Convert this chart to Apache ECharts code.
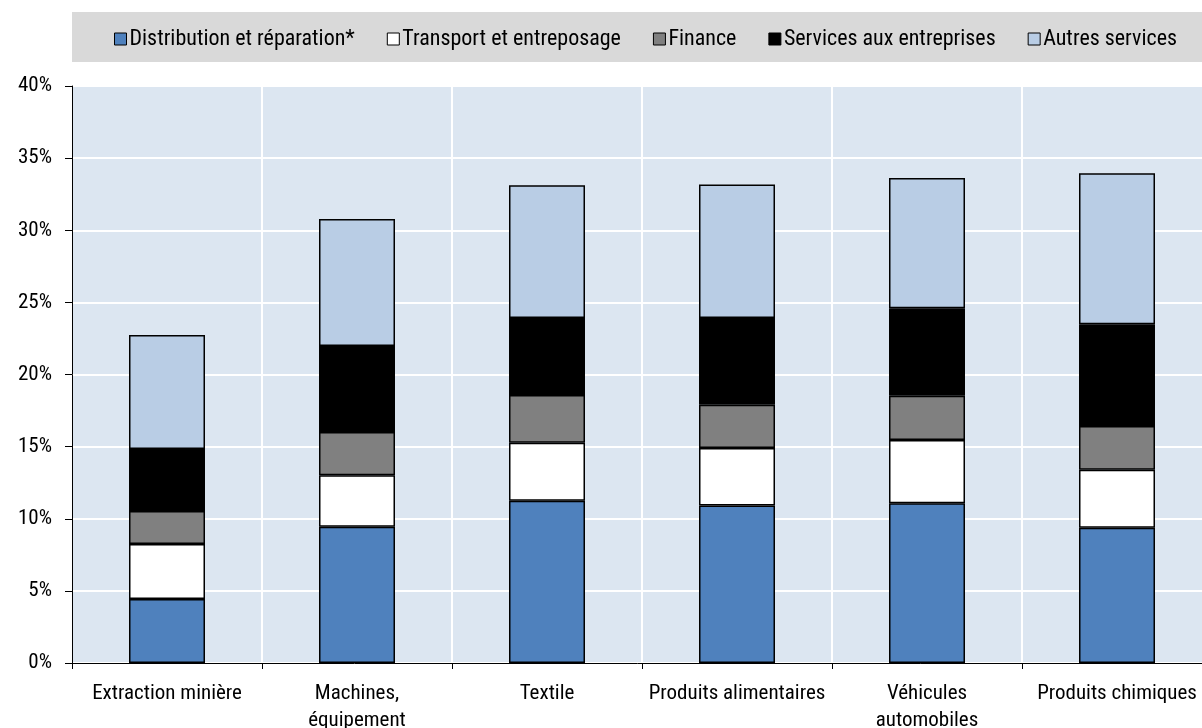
<!DOCTYPE html>
<html>
<head>
<meta charset="utf-8">
<script src="https://cdn.jsdelivr.net/npm/echarts@6/dist/echarts.min.js"></script>
<style>
  html, body { margin: 0; padding: 0; background: #fff; }
  #chart { width: 1202px; height: 728px; }
</style>
</head>
<body>
<div id="chart"></div>
<script>
  // données (% de la valeur ajoutée)
  const categories = ['Extraction minière', 'Machines,\néquipement', 'Textile', 'Produits alimentaires', 'Véhicules\nautomobiles', 'Produits chimiques'];
  const distribution = [4.44, 9.45, 11.25, 10.91, 11.07, 9.38];
  const transport = [3.81, 3.56, 4.02, 3.99, 4.39, 4.02];
  const finance = [2.29, 3.0, 3.31, 3.01, 3.07, 3.03];
  const servicesEntreprises = [4.3, 5.97, 5.34, 6.01, 6.06, 7.05];
  const autresServices = [7.9, 8.8, 9.2, 9.26, 9.03, 10.47];
  const yTicks = [0, 5, 10, 15, 20, 25, 30, 35, 40];

  const font = '"Roboto Condensed", "Liberation Sans Narrow", sans-serif';

  const chart = echarts.init(document.getElementById('chart'));

  const mkSeries = (name, data, color) => ({
    name: name,
    type: 'bar',
    stack: 'total',
    data: data,
    barWidth: 76,
    itemStyle: { color: color, borderColor: '#000', borderWidth: 1.5 },
    emphasis: { disabled: true }
  });

  chart.setOption({
    animation: false,
    textStyle: { fontFamily: font },
    graphic: [{
      type: 'rect',
      shape: { x: 72, y: 12, width: 1130, height: 50 },
      style: { fill: '#d9d9d9' },
      z: -1
    }],
    legend: {
      top: 23,
      left: 109,
      itemWidth: 12,
      itemHeight: 12,
      itemGap: 32,
      icon: 'rect',
      textStyle: { fontFamily: font, fontSize: 22, color: '#000', padding: [0, 0, 0, -2] },
      itemStyle: { borderColor: '#000', borderWidth: 1 }
    },
    grid: {
      left: 72,
      right: -10,
      top: 86,
      bottom: 65,
      outerBoundsMode: 'none',
      containLabel: false,
      show: true,
      backgroundColor: '#dce6f1',
      borderColor: '#000',
      borderWidth: 1
    },
    xAxis: {
      type: 'category',
      data: categories,
      axisLine: { lineStyle: { color: '#000', width: 1 } },
      axisTick: { show: true, length: 6, lineStyle: { color: '#000' } },
      splitLine: { show: true, lineStyle: { color: '#fff', width: 2 } },
      axisLabel: { fontFamily: font, fontSize: 21, color: '#000', margin: 17, lineHeight: 27, interval: 0 }
    },
    yAxis: {
      type: 'value',
      min: yTicks[0],
      max: yTicks[yTicks.length - 1],
      interval: 5,
      axisLine: { show: true, lineStyle: { color: '#000', width: 1 } },
      axisTick: { show: true, length: 7, lineStyle: { color: '#000' } },
      splitLine: { show: true, lineStyle: { color: '#fff', width: 2 } },
      axisLabel: { fontFamily: font, fontSize: 21, color: '#000', margin: 20, formatter: '{value}%' }
    },
    series: [
      mkSeries('Distribution et réparation*', distribution, '#4f81bd'),
      mkSeries('Transport et entreposage', transport, '#ffffff'),
      mkSeries('Finance', finance, '#808080'),
      mkSeries('Services aux entreprises', servicesEntreprises, '#000000'),
      mkSeries('Autres services', autresServices, '#b9cde5')
    ]
  });
</script>
</body>
</html>
